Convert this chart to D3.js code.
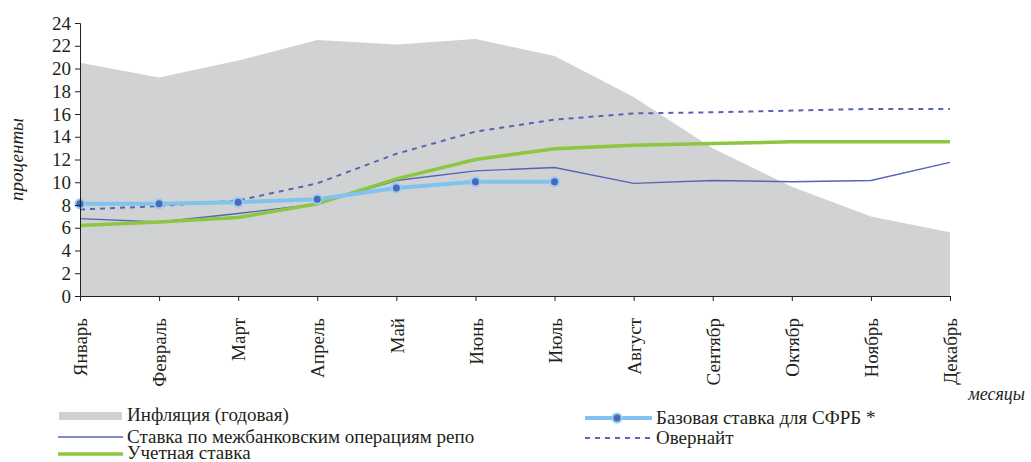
<!DOCTYPE html>
<html>
<head>
<meta charset="utf-8">
<script src="https://cdn.jsdelivr.net/npm/d3@7"></script>
<style>
  body { margin: 0; background: #fff; }
  text { font-family: "Liberation Serif", "Times New Roman", serif; fill: #231f20; }
</style>
</head>
<body>
<svg id="chart" width="1031" height="462"></svg>
<script>
let months = ['Январь', 'Февраль', 'Март', 'Апрель', 'Май', 'Июнь', 'Июль',
    'Август', 'Сентябр', 'Октябр', 'Ноябрь', 'Декабрь']

let inflation = [20.5, 19.2, 20.7, 22.5, 22.1, 22.6, 21.1, 17.5, 13.0, 9.6, 7.0, 5.6]
let repo = [6.8, 6.5, 7.25, 8.1, 10.15, 11.0, 11.3, 9.9, 10.15, 10.05, 10.15, 11.75]
let overnight = [7.6, 7.9, 8.4, 9.9, 12.5, 14.45, 15.5, 16.05, 16.15, 16.3, 16.45, 16.45]
let discount = [6.2, 6.5, 6.9, 8.1, 10.3, 12.0, 12.95, 13.25, 13.4, 13.55, 13.55, 13.55]
let base_rate = [8.1, 8.1, 8.25, 8.5, 9.5, 10.05, 10.05]

let y_ticks = d3.range(0, 25, 2)

let pad = { 'l': 80, 'r': 81, 't': 23, 'b': 166 }
let width = 1031, height = 462

let svg = d3.select('#chart')

let x = d3.scalePoint()
    .domain(months)
    .range([pad.l, width - pad.r])

let y = d3.scaleLinear()
    .domain([0, 24])
    .range([height - pad.b, pad.t])

let area = d3.area()
    .x((d, i) => x(months[i]))
    .y0(y(0))
    .y1(d => y(d))

svg.append('path')
    .datum(inflation)
    .attr('d', area)
    .attr('fill', '#d1d2d4')

let line = d3.line()
    .x((d, i) => x(months[i]))
    .y(d => y(d))

svg.append('path')
    .datum(repo)
    .attr('d', line)
    .attr('fill', 'none')
    .attr('stroke', '#5764b4')
    .attr('stroke-width', 1.4)

svg.append('path')
    .datum(overnight)
    .attr('d', line)
    .attr('fill', 'none')
    .attr('stroke', '#5764b4')
    .attr('stroke-width', 2)
    .attr('stroke-dasharray', '5,5')

svg.append('path')
    .datum(discount)
    .attr('d', line)
    .attr('fill', 'none')
    .attr('stroke', '#8dc63f')
    .attr('stroke-width', 3.5)

svg.append('path')
    .datum(base_rate)
    .attr('d', line)
    .attr('fill', 'none')
    .attr('stroke', '#7fc3ee')
    .attr('stroke-width', 4)

svg.selectAll('circle.base').data(base_rate).enter()
    .append('circle')
    .classed('base', true)
    .attr('cx', (d, i) => x(months[i]))
    .attr('cy', d => y(d))
    .attr('r', 4.5)
    .attr('fill', '#5064b8')
    .attr('stroke', '#8fcdf2')
    .attr('stroke-width', 2)

// axes
let y_axis = d3.axisLeft(y)
    .tickValues(y_ticks)
    .tickSize(5)
    .tickPadding(4)

let ya = svg.append('g')
    .attr('transform', `translate(${pad.l},0)`)
    .call(y_axis)
ya.select('.domain').attr('stroke', '#231f20')
ya.selectAll('.tick line').attr('stroke', '#231f20')
ya.selectAll('.tick text')
    .style('font-size', '19px')
    .style('font-family', '"Liberation Serif", serif')
    .attr('fill', '#231f20')

let x_axis = d3.axisBottom(x)
    .tickSize(5)
    .tickSizeOuter(0)
    .tickPadding(0)

let xa = svg.append('g')
    .attr('transform', `translate(0,${y(0)})`)
    .call(x_axis)
xa.select('.domain').attr('stroke', '#231f20')
xa.selectAll('.tick line').attr('stroke', '#231f20')
xa.selectAll('.tick text')
    .style('font-size', '19px')
    .style('font-family', '"Liberation Serif", serif')
    .attr('fill', '#231f20')
    .attr('text-anchor', 'end')
    .attr('dy', '0.35em')
    .attr('transform', 'translate(0,22) rotate(-90)')
    .attr('y', 0)

svg.append('text')
    .attr('transform', `translate(23,${(y(0) + y(24)) / 2}) rotate(-90)`)
    .attr('text-anchor', 'middle')
    .style('font-style', 'italic')
    .style('font-size', '19px')
    .text('проценты')

svg.append('text')
    .attr('x', 1025)
    .attr('y', 400)
    .attr('text-anchor', 'end')
    .style('font-style', 'italic')
    .style('font-size', '18px')
    .text('месяцы')

// legend
let legend = svg.append('g').style('font-size', '19px')

legend.append('rect')
    .attr('x', 59).attr('y', 412).attr('width', 63).attr('height', 8)
    .attr('fill', '#d1d2d4')
legend.append('text').attr('x', 127).attr('y', 421).text('Инфляция (годовая)')

legend.append('line')
    .attr('x1', 58).attr('x2', 123).attr('y1', 437).attr('y2', 437)
    .attr('stroke', '#5764b4').attr('stroke-width', 1.4)
legend.append('text').attr('x', 127).attr('y', 443).text('Ставка по межбанковским операциям репо')

legend.append('line')
    .attr('x1', 58).attr('x2', 123).attr('y1', 454).attr('y2', 454)
    .attr('stroke', '#8dc63f').attr('stroke-width', 3.5)
legend.append('text').attr('x', 127).attr('y', 459).text('Учетная ставка')

legend.append('line')
    .attr('x1', 585).attr('x2', 652).attr('y1', 418).attr('y2', 418)
    .attr('stroke', '#7fc3ee').attr('stroke-width', 4)
legend.append('circle')
    .attr('cx', 617).attr('cy', 418).attr('r', 4.5)
    .attr('fill', '#5064b8').attr('stroke', '#8fcdf2').attr('stroke-width', 2)
legend.append('text').attr('x', 656).attr('y', 424).text('Базовая ставка для СФРБ *')

legend.append('line')
    .attr('x1', 585).attr('x2', 650).attr('y1', 438).attr('y2', 438)
    .attr('stroke', '#5764b4').attr('stroke-width', 2)
    .attr('stroke-dasharray', '5,5')
legend.append('text').attr('x', 656).attr('y', 444).text('Овернайт')
</script>
</body>
</html>
